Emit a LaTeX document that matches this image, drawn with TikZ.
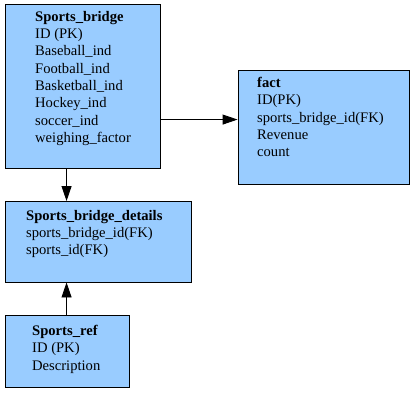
\documentclass[tikz,border=0pt]{standalone}
\usepackage{fontspec}
\setmainfont{Liberation Serif}
\usetikzlibrary{arrows.meta}
\definecolor{boxblue}{RGB}{153,204,255}
\tikzset{
  tbl/.style={draw=black, line width=0.9pt, fill=boxblue, inner sep=0pt},
  txt/.style={anchor=north west, align=left, inner sep=0pt, font=\fontsize{14.6pt}{17.3pt}\selectfont},
  conn/.style={line width=0.9pt, -{Triangle[length=15pt,width=10pt]}}
}
\begin{document}
\begin{tikzpicture}[x=1pt,y=1pt]
\useasboundingbox (0,0) rectangle (415,-402);
\node[tbl, minimum width=155pt, minimum height=164pt] (sb) at (82.5,-86) {};
\node[tbl, minimum width=186.5pt, minimum height=80.5pt] (sbd) at (98.25,-241.75) {};
\node[tbl, minimum width=124pt, minimum height=72pt] (sr) at (67,-351) {};
\node[tbl, minimum width=171pt, minimum height=113.5pt] (fact) at (323.5,-127.25) {};
\node[txt] (sbt) at (35,-11) {\textbf{Sports\_bridge}\\ID (PK)\\Baseball\_ind\\Football\_ind\\Basketball\_ind\\Hockey\_ind\\soccer\_ind\\weighing\_factor};
\node[txt] (factt) at (257,-77) {\textbf{fact}\\ID(PK)\\sports\_bridge\_id(FK)\\Revenue\\count};
\node[txt] (sbdt) at (26,-210) {\textbf{Sports\_bridge\_details}\\sports\_bridge\_id(FK)\\sports\_id(FK)};
\node[txt] (srt) at (32,-325) {\textbf{Sports\_ref}\\ID (PK)\\Description};
\draw[conn] ([xshift=62pt]sb.south west) -- ([xshift=62pt]sbd.north west);
\draw[conn] ([xshift=62pt]sr.north west) -- ([xshift=62pt]sbd.south west);
\draw[conn] ([yshift=-116pt]sb.north east) -- ([yshift=-116pt]sb.north east -| fact.west);
\end{tikzpicture}
\end{document}
